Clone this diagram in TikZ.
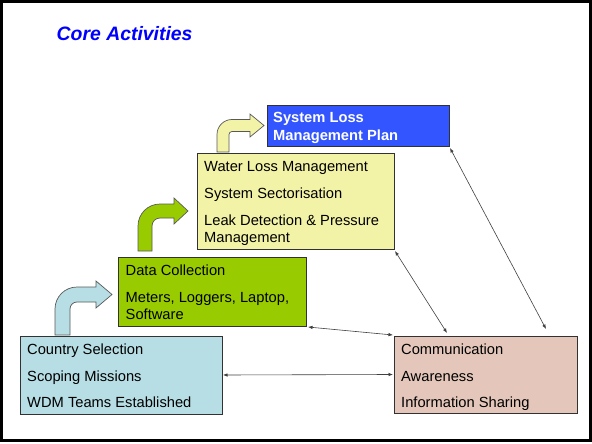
\documentclass[tikz,border=0pt]{standalone}
\usepackage{fontspec}
\setmainfont{Liberation Sans}
\usetikzlibrary{calc,arrows.meta}
\definecolor{cyanbox}{RGB}{183,222,228}
\definecolor{greenbox}{RGB}{153,204,0}
\definecolor{yellowbox}{RGB}{243,243,168}
\definecolor{bluebox}{RGB}{51,85,255}
\definecolor{pinkbox}{RGB}{228,199,186}
\definecolor{titleblue}{RGB}{0,0,255}
\definecolor{edge}{RGB}{50,50,50}

% bent arrow: #1 style, #2 L, #3 T, #4 R, #5 B, #6 shaft, #7 half head, #8 head length, #9 outer radius
\newcommand\mybentarrow[9]{%
  \pgfmathsetmacro\baL{#2}\pgfmathsetmacro\baT{#3}%
  \pgfmathsetmacro\baR{#4}\pgfmathsetmacro\baB{#5}%
  \pgfmathsetmacro\badh{#7-#6/2}%
  \pgfmathsetmacro\baxf{#4-#8}%
  \pgfmathsetmacro\bayt{#3+\badh}%
  \pgfmathsetmacro\bayc{#3+\badh+#6}%
  \pgfmathsetmacro\bayf{#3+2*#7}%
  \pgfmathsetmacro\bayh{#3+#7}%
  \pgfmathsetmacro\bayv{#3+\badh+#9}%
  \pgfmathsetmacro\babd{max(#9-#6,0)}%
  \pgfmathsetmacro\baxc{#2+#6+\babd}%
  \pgfmathsetmacro\bayx{\bayc+\babd}%
  \pgfmathsetmacro\baxi{#2+#6}%
  \pgfmathsetmacro\baxo{#2+#9}%
  \pgfmathsetmacro\bacA{\bayv-0.5523*#9}%
  \pgfmathsetmacro\bacB{\baxo-0.5523*#9}%
  \pgfmathsetmacro\bacC{\baxc-0.5523*\babd}%
  \pgfmathsetmacro\bacD{\bayx-0.5523*\babd}%
  \draw[#1] (\baL,\baB) -- (\baL,\bayv)
    .. controls (\baL,\bacA) and (\bacB,\bayt) .. (\baxo,\bayt)
    -- (\baxf,\bayt) -- (\baxf,\baT) -- (\baR,\bayh) -- (\baxf,\bayf)
    -- (\baxf,\bayc) -- (\baxc,\bayc)
    .. controls (\bacC,\bayc) and (\baxi,\bacD) .. (\baxi,\bayx)
    -- (\baxi,\baB) -- cycle;%
}

\begin{document}
\begin{tikzpicture}[x=1pt,y=-1pt,
  box/.style={draw=edge, line width=0.8pt, rectangle, inner sep=0pt, outer sep=0pt, anchor=north west},
  txt/.style={anchor=base west, inner sep=0pt, font=\fontsize{14.7}{17}\selectfont},
  btxt/.style={txt, text=white, font=\fontsize{14.7}{17}\selectfont\bfseries},
  conn/.style={draw=black!75, line width=0.6pt, {Latex[length=4.5pt,width=3.5pt]}-{Latex[length=4.5pt,width=3.5pt]}},
  barrow/.style={draw=black!65, line width=0.7pt, line join=miter}
]
\useasboundingbox (0,0) rectangle (592,444);
\fill[white] (0,0) rectangle (592,444);
\draw[line width=2.6pt] (1.3,1.3) rectangle (590.7,440.7);

\node[anchor=base west, inner sep=0pt, text=titleblue,
      font=\fontsize{19.4}{23}\selectfont\bfseries\itshape] (title) at (56.5,40.7) {Core Activities};

% bent arrows
\mybentarrow{barrow, fill=cyanbox}{55}{281}{112}{335}{15}{13.5}{16}{22}
\mybentarrow{barrow, fill=greenbox}{138}{198}{188}{251}{14}{13}{14}{22}
\mybentarrow{barrow, fill=yellowbox}{217}{114}{264}{152}{12}{11.5}{14}{15}

% boxes
\node[box, fill=bluebox, minimum width=182, minimum height=41] (bl) at (267,105) {};
\node[box, fill=yellowbox, minimum width=197, minimum height=96] (ye) at (197,153) {};
\node[box, fill=greenbox, minimum width=188, minimum height=69] (gr) at (118,257) {};
\node[box, fill=cyanbox, minimum width=202, minimum height=78] (cy) at (20,336) {};
\node[box, fill=pinkbox, minimum width=183, minimum height=77] (pk) at (394,336) {};

% texts
\node[btxt] (bl1) at ($(bl.north west)+(6,17.3)$) {System Loss};
\node[btxt] (bl2) at ($(bl.north west)+(6,35)$) {Management Plan};

\node[txt] (ye1) at ($(ye.north west)+(7,18.7)$) {Water Loss Management};
\node[txt] (ye2) at ($(ye.north west)+(7,45.3)$) {System Sectorisation};
\node[txt] (ye3) at ($(ye.north west)+(7,72.3)$) {Leak Detection \& Pressure};
\node[txt] (ye4) at ($(ye.north west)+(7,89.7)$) {Management};

\node[txt] (gr1) at ($(gr.north west)+(7.5,18)$) {Data Collection};
\node[txt] (gr2) at ($(gr.north west)+(7.5,45.3)$) {Meters, Loggers, Laptop,};
\node[txt] (gr3) at ($(gr.north west)+(7.5,62)$) {Software};

\node[txt] (cy1) at ($(cy.north west)+(7,18.5)$) {Country Selection};
\node[txt] (cy2) at ($(cy.north west)+(7,45)$) {Scoping Missions};
\node[txt] (cy3) at ($(cy.north west)+(7,71.6)$) {WDM Teams Established};

\node[txt] (pk1) at ($(pk.north west)+(7,18.5)$) {Communication};
\node[txt] (pk2) at ($(pk.north west)+(7,45)$) {Awareness};
\node[txt] (pk3) at ($(pk.north west)+(7,71.6)$) {Information Sharing};

% connectors
\draw[conn] ($(bl.south east)+(1,2)$) -- ($(pk.north west)+(152,-7)$);
\draw[conn] ($(ye.south east)+(1,2)$) -- ($(pk.north west)+(53,-3)$);
\draw[conn] ($(gr.south east)+(2,1)$) -- ($(pk.north west)+(-1,-1)$);
\draw[conn] ($(cy.east)+(1,0)$) -- ($(pk.west)+(-1,0)$);
\end{tikzpicture}
\end{document}
